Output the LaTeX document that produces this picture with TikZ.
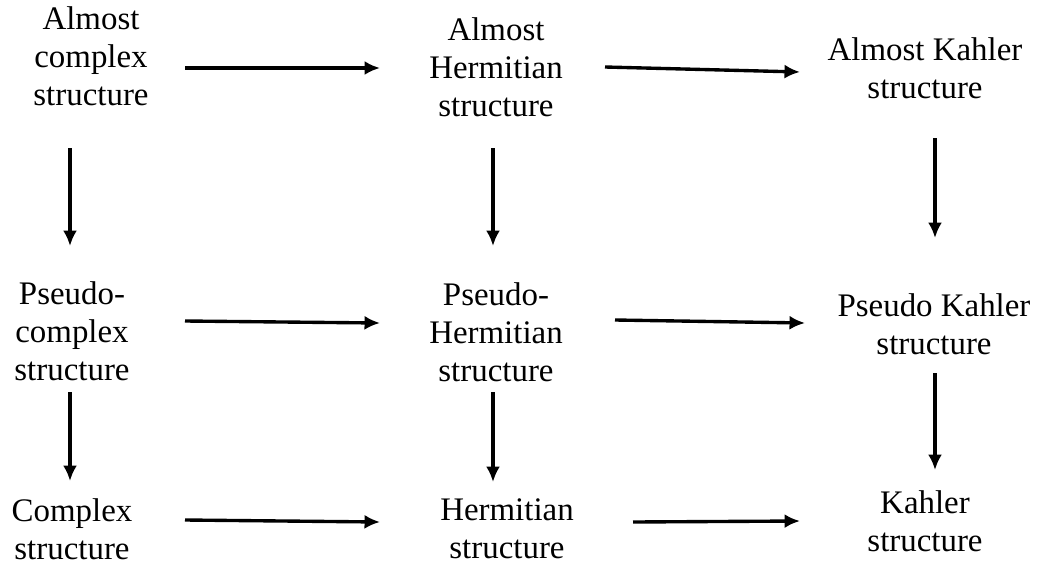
\documentclass[tikz,border=0pt]{standalone}
\usepackage{fontspec}
\setmainfont{Liberation Serif}
\usetikzlibrary{arrows.meta}

\tikzset{
	struct/.style={align=center, inner sep=0pt, font=\fontsize{23.4}{27}\selectfont},
	arr/.style={line width=2.4pt, -{Latex[length=11pt,width=10pt]}}
}

\begin{document}
\begin{tikzpicture}[x=0.025cm, y=-0.025cm]
\useasboundingbox (0,0) rectangle (1039,567);

% first row
\node[struct] (acs) at (91,56) {Almost\\complex\\structure};
\node[struct] (ahs) at (496,67) {Almost\\Hermitian\\structure};
\node[struct] (aks) at (925,68) {Almost Kahler\\structure};

% second row
\node[struct] (pcs) at (72,331) {Pseudo-\\complex\\structure};
\node[struct] (phs) at (496,332) {Pseudo-\\Hermitian\\structure};
\node[struct] (pks) at (934,324) {Pseudo Kahler\\structure};

% third row
\node[struct] (cs) at (72,529) {Complex\\structure};
\node[struct] (hs) at (507,529) {Hermitian\\structure};
\node[struct] (ks) at (925,521) {Kahler\\structure};

\draw[arr] ([shift={(94,12)}]acs.center) -- ([shift={(-116,1)}]ahs.center);
\draw[arr] ([shift={(109,0)}]ahs.center) -- ([shift={(-125,4)}]aks.center);

\draw[arr] ([shift={(-21,92)}]acs.center) -- ([shift={(-2,-85)}]pcs.center);
\draw[arr] ([shift={(-3,81)}]ahs.center) -- ([shift={(-3,-86)}]phs.center);
\draw[arr] ([shift={(10,70)}]aks.center) -- ([shift={(1,-86)}]pks.center);

\draw[arr] ([shift={(113,-10)}]pcs.center) -- ([shift={(-116,-9)}]phs.center);
\draw[arr] ([shift={(119,-12)}]phs.center) -- ([shift={(-129,-1)}]pks.center);

\draw[arr] ([shift={(-2,61)}]pcs.center) -- ([shift={(-2,-48)}]cs.center);
\draw[arr] ([shift={(-3,60)}]phs.center) -- ([shift={(-14,-47)}]hs.center);
\draw[arr] ([shift={(1,49)}]pks.center) -- ([shift={(10,-51)}]ks.center);

\draw[arr] ([shift={(113,-9)}]cs.center) -- ([shift={(-127,-7)}]hs.center);
\draw[arr] ([shift={(126,-7)}]hs.center) -- ([shift={(-125,0)}]ks.center);
\end{tikzpicture}
\end{document}
